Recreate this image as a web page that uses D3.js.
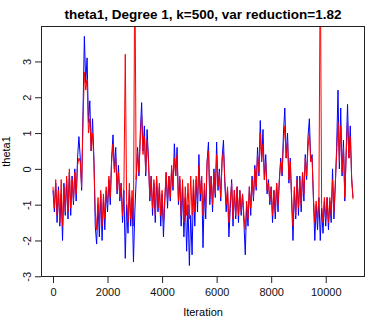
<!DOCTYPE html>
<html>
<head>
<meta charset="utf-8">
<script src="https://cdn.jsdelivr.net/npm/d3@7"></script>
<style>
  body { margin: 0; background: #fff; }
  text { font-family: "Liberation Sans", Arial, sans-serif; }
</style>
</head>
<body>
<svg id="chart"></svg>
<script>
// trace values, one every 50 iterations
const step = 50;

const blueVals = [
  -0.6,-1.2,-0.4,-1.5,-0.5,-1.6,-0.7,-2.0,-0.4,-1.3,
  -0.3,-1.4,-0.1,-1.3,-0.2,-1.0,0.0,-0.9,0.3,0.9,
  0.3,-0.6,1.6,3.7,2.4,3.1,1.3,1.9,0.5,1.4,
  0.3,-1.6,-2.1,-1.0,-1.9,-0.7,-2.0,-0.8,-1.7,-0.6,
  -1.2,-0.3,-1.0,0.3,0.95,0.0,0.6,-0.7,0.1,-0.9,
  -0.4,-1.5,-0.6,-2.5,-1.0,-1.8,-0.6,-1.6,-0.8,-2.6,
  -1.2,-0.3,0.6,-0.2,1.0,1.85,0.5,1.2,-0.2,1.1,
  0.3,-0.9,-0.2,-1.3,-0.4,-1.5,-0.3,-1.2,-0.5,-1.6,
  -0.7,-1.9,-0.9,-0.1,-1.1,-0.2,-0.9,0.0,-0.6,0.7,
  -0.2,0.6,-1.0,-0.3,-1.6,-0.5,-1.9,-0.8,-2.3,-1.0,
  -2.7,-1.3,-2.4,-0.5,-1.6,-0.3,-1.2,0.4,-0.9,-0.2,
  -2.2,-0.6,-1.4,0.2,0.75,-1.0,-0.2,-1.2,0.0,-0.8,
  0.75,-0.6,0.0,-0.9,0.3,0.8,-0.4,-1.2,-0.6,-1.9,
  -1.1,-0.3,-1.6,-0.6,-1.4,-0.5,-1.5,-0.6,-1.3,-0.7,
  -1.5,-2.4,-1.0,-1.6,-0.5,-1.3,-0.2,-0.9,0.1,-0.6,
  0.6,-0.2,1.35,0.2,1.1,-0.3,0.4,-0.7,-0.3,-1.0,
  -0.5,-1.5,-0.6,-1.4,-0.4,-1.2,-0.3,0.3,-0.2,1.0,
  1.7,0.3,1.0,-0.4,0.3,-0.9,-2.0,-0.6,-1.4,-0.2,
  -1.3,-0.2,-1.2,-0.1,-0.9,0.4,-0.3,0.9,1.4,0.2,
  0.4,-0.9,-2.0,-1.0,-1.7,-0.8,-2.0,-1.1,-1.8,-0.9,
  -1.6,-0.8,-1.7,-0.9,-1.5,0.0,-1.4,-0.5,0.6,2.2,
  0.0,1.7,-0.2,0.8,-0.9,0.5,1.8,0.3,1.2,-0.3,
  -0.8
];

const redVals = [
  -0.5,-1.1,-0.3,-1.3,-0.6,-1.5,-0.3,-1.6,-0.5,-1.2,
  -0.2,-1.2,0.0,-1.1,-0.3,-0.9,-0.1,-0.7,0.1,0.3,
  0.2,-0.5,1.3,2.7,2.2,2.5,1.0,1.4,0.5,1.0,
  0.2,-1.2,-1.7,-0.8,-1.5,-0.6,-1.6,-0.7,-1.4,-0.5,
  -1.0,-0.2,-0.8,0.2,0.7,-0.1,0.3,-0.6,-0.1,-0.8,
  -0.4,-1.3,-0.5,3.2,-0.9,-1.5,-0.4,-1.4,-0.6,-1.6,
  6.0,-0.3,0.5,-0.1,0.8,1.5,0.4,0.9,-0.1,0.8,
  0.2,-0.8,-0.2,-1.1,-0.3,-1.3,-0.2,-1.1,-0.4,-1.3,
  -0.6,-1.5,-0.8,-0.1,-0.9,-0.2,-0.8,0.1,-0.5,0.3,
  -0.2,0.4,-0.9,-0.2,-1.3,-0.3,-1.5,-0.5,-1.3,-0.4,
  -1.4,-0.2,-1.3,-0.3,-1.2,-0.2,-0.9,0.1,-0.7,-0.2,
  -1.3,-0.4,-1.1,0.2,0.5,-0.8,-0.2,-1.0,-0.1,-0.7,
  0.4,-0.5,-0.1,-0.8,0.2,0.5,-0.3,-1.0,-0.5,-1.5,
  -0.9,-0.4,-1.4,-0.6,-1.3,-0.5,-1.3,-0.6,-1.2,-0.7,
  -1.3,-1.7,-0.9,-1.4,-0.5,-1.1,-0.3,-0.8,0.0,-0.5,
  0.4,-0.1,1.0,0.2,0.7,-0.3,0.2,-0.6,-0.4,-0.9,
  -0.5,-1.3,-0.6,-1.2,-0.4,-1.0,-0.3,0.2,-0.1,0.7,
  1.2,0.3,0.8,-0.3,0.2,-0.8,-1.6,-0.5,-1.3,-0.3,
  -1.1,-0.3,-1.0,-0.1,-0.7,0.3,-0.2,0.6,1.0,0.2,
  0.3,-0.8,-1.5,-0.9,-1.4,-0.8,6.0,-1.0,-1.5,-0.8,
  -1.4,-0.8,-1.5,-0.8,-1.3,-0.3,-1.2,-0.4,0.4,1.3,
  0.2,1.2,-0.1,0.6,-0.8,0.4,1.3,0.3,0.9,-0.2,
  -0.85
];

const xTicks = [0, 2000, 4000, 6000, 8000, 10000];
const yTicks = [-3, -2, -1, 0, 1, 2, 3];

const title = "theta1, Degree 1, k=500, var reduction=1.82";

const width = 366, height = 317;
const margin = { left: 41, right: 365, top: 26, bottom: 277 };

const svg = d3.select("#chart")
  .attr("width", width)
  .attr("height", height);

// R style: range padded by 4% on each side
const x = d3.scaleLinear().domain([-440, 11440]).range([margin.left, margin.right]);
const y = d3.scaleLinear().domain([-3.02, 3.99]).range([margin.bottom, margin.top]);

svg.append("clipPath").attr("id", "plotclip")
  .append("rect")
  .attr("x", margin.left).attr("y", margin.top)
  .attr("width", margin.right - margin.left).attr("height", margin.bottom - margin.top);

const line = d3.line()
  .x((d, i) => x(i * step))
  .y(d => y(d));

const g = svg.append("g").attr("clip-path", "url(#plotclip)");

g.append("path")
  .datum(blueVals)
  .attr("fill", "none")
  .attr("stroke", "blue")
  .attr("stroke-width", 1)
  .attr("d", line);

g.append("path")
  .datum(redVals)
  .attr("fill", "none")
  .attr("stroke", "red")
  .attr("stroke-width", 1)
  .attr("d", line);

// box
svg.append("rect")
  .attr("x", margin.left + 0.5).attr("y", margin.top + 0.5)
  .attr("width", margin.right - margin.left - 1).attr("height", margin.bottom - margin.top - 1)
  .attr("fill", "none")
  .attr("stroke", "#222");

// x axis
const xAxis = svg.append("g")
  .attr("transform", `translate(0,${margin.bottom})`)
  .call(d3.axisBottom(x).tickValues(xTicks).tickSize(6).tickFormat(d3.format("d")));
xAxis.select(".domain").remove();
xAxis.selectAll("line").attr("stroke", "#222");
xAxis.selectAll("text")
  .attr("y", 11)
  .attr("dy", "0.71em")
  .style("font-size", "11px")
  .style("font-family", "Liberation Sans, Arial, sans-serif")
  .attr("fill", "#111");

// y axis (plain hyphen for negatives, like R)
const yAxis = svg.append("g")
  .attr("transform", `translate(${margin.left},0)`)
  .call(d3.axisLeft(y).tickValues(yTicks).tickSize(6).tickFormat(d => String(d)));
yAxis.select(".domain").remove();
yAxis.selectAll("line").attr("stroke", "#222");
yAxis.selectAll("text")
  .attr("x", null).attr("dy", null)
  .attr("text-anchor", "middle")
  .attr("transform", "translate(-10,0) rotate(-90)")
  .style("font-size", "11px")
  .style("font-family", "Liberation Sans, Arial, sans-serif")
  .attr("fill", "#111");

// title and labels
svg.append("text")
  .attr("x", (margin.left + margin.right) / 2)
  .attr("y", 18.5)
  .attr("text-anchor", "middle")
  .style("font-size", "13.5px")
  .style("font-weight", "bold")
  .text(title);

svg.append("text")
  .attr("x", (margin.left + margin.right) / 2)
  .attr("y", 316)
  .attr("text-anchor", "middle")
  .style("font-size", "11px")
  .text("Iteration");

svg.append("text")
  .attr("transform", `translate(10,${(margin.top + margin.bottom) / 2}) rotate(-90)`)
  .attr("text-anchor", "middle")
  .style("font-size", "11px")
  .text("theta1");
</script>
</body>
</html>
